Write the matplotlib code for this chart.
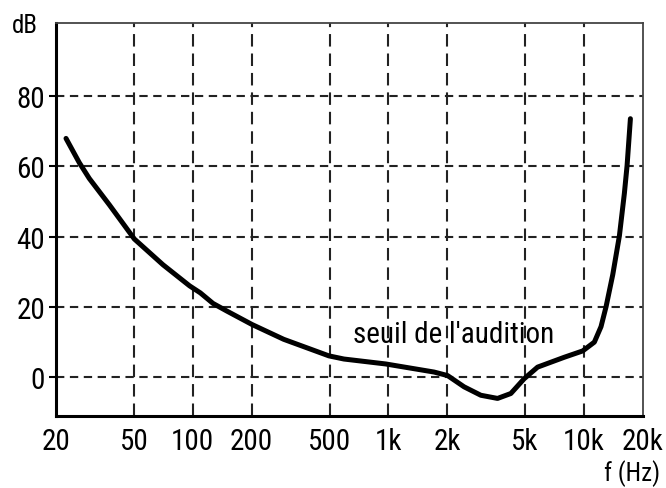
import matplotlib
matplotlib.use("Agg")
import matplotlib.pyplot as plt

plt.rcParams['font.family'] = ['Roboto Condensed', 'Archivo Narrow', 'Liberation Sans', 'DejaVu Sans']
plt.rcParams['lines.scale_dashes'] = False

# seuil d'audition
freq = [22.5, 26.3, 29.6, 37.5, 50.3, 70.4, 96.3, 109.3, 126.9, 149.7, 201,
        291.6, 496, 592, 967, 1710, 2005, 2435, 2966, 3611, 4222, 4939,
        5785, 7917, 9835, 11279, 12200, 12950, 14010, 15145, 16060, 16580,
        17240]
seuil = [67.9, 61, 56.5, 49, 39.3, 32.0, 26.0, 24.0, 21.0, 18.8, 15.0,
         10.8, 6.1, 5.2, 3.8, 1.5, 0.5, -2.7, -5.1, -6.0, -4.6, -0.4,
         2.9, 5.7, 7.5, 10.0, 14.4, 20.1, 29.2, 40.2, 52.3, 60.2,
         73.5]

xticks = [20, 50, 100, 200, 500, 1000, 2000, 5000, 10000, 20000]
xlabels = ['20', '50', '100', '200', '500', '1k', '2k', '5k', '10k', '20k']
yticks = [0, 20, 40, 60, 80]

fig = plt.figure(figsize=(6.66, 4.89), dpi=100)
ax = fig.add_axes([0.0841, 0.1472, 0.8814, 0.8037])

ax.plot(freq, seuil, color='black', lw=3.6, solid_capstyle='round',
        solid_joinstyle='round', zorder=3)

ax.set_xscale('log')
ax.set_xlim(20, 20000)
ax.set_ylim(-11, 100.7)
ax.minorticks_off()
ax.set_xticks(xticks)
ax.set_xticklabels(xlabels)
ax.set_yticks(yticks)

for v in xticks[1:-1]:
    ax.axvline(v, color='#222222', lw=1.5, ls=(0, (9, 5)), zorder=1)
for v in yticks:
    ax.axhline(v, color='#222222', lw=1.5, ls=(0, (6, 4)), zorder=1)

ax.tick_params(axis='x', length=0, pad=8, labelsize=21)
ax.tick_params(axis='y', length=5, width=1.5, pad=3, labelsize=21)

for s in ['left', 'bottom']:
    ax.spines[s].set_linewidth(2.2)
    ax.spines[s].set_color('black')
for s in ['top', 'right']:
    ax.spines[s].set_linewidth(1.3)
    ax.spines[s].set_color('#444444')

ax.text(660, 10, "seuil de l'audition", fontsize=21, ha='left',
        va='baseline', zorder=4)

fig.text(12 / 666, 1 - 33 / 489, 'dB', fontsize=18, ha='left', va='baseline')
fig.text(660 / 666, 1 - 481 / 489, 'f (Hz)', fontsize=18, ha='right',
         va='baseline')

fig.savefig('out.png', dpi=100)
